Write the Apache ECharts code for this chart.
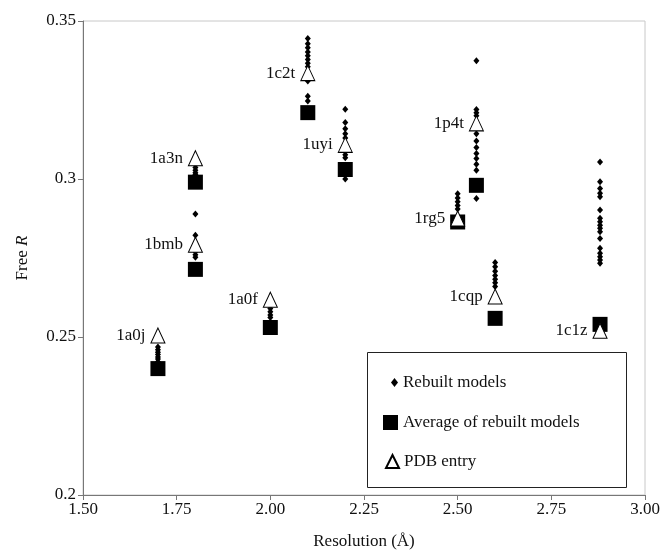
<!DOCTYPE html>
<html>
<head>
<meta charset="utf-8">
<script src="https://cdn.jsdelivr.net/npm/echarts@6/dist/echarts.min.js"></script>
<style>
html,body{margin:0;padding:0;background:#fff;}
#chart{width:665px;height:552px;}
</style>
</head>
<body>
<div id="chart"></div>
<script>
// ---- data ----
var structures = ['1a0j','1a3n','1bmb','1a0f','1c2t','1uyi','1rg5','1p4t','1cqp','1c1z'];
var resolutions = [1.70, 1.80, 1.80, 2.00, 2.10, 2.20, 2.50, 2.55, 2.60, 2.88];
var pdbR = [0.2505, 0.3066, 0.2792, 0.2618, 0.3335, 0.3108, 0.2875, 0.3176, 0.2628, 0.2520];
var avgR = [0.2400, 0.2990, 0.2714, 0.2530, 0.3210, 0.3030, 0.2864, 0.2980, 0.2559, 0.2540];
var rebuiltR = [
  [0.2468, 0.2460, 0.2452, 0.2445, 0.2437, 0.2430, 0.2422],
  [0.3036, 0.3028, 0.3020, 0.3014],
  [0.2889, 0.2822, 0.2770, 0.2760, 0.2752],
  [0.2590, 0.2580, 0.2570, 0.2562],
  [0.3445, 0.3428, 0.3415, 0.3402, 0.3390, 0.3378, 0.3366, 0.3355, 0.3310, 0.3262, 0.3247],
  [0.3221, 0.3179, 0.3159, 0.3143, 0.3130, 0.3077, 0.3067, 0.3000],
  [0.2953, 0.2940, 0.2928, 0.2916, 0.2905],
  [0.3374, 0.3220, 0.3210, 0.3200, 0.3143, 0.3120, 0.3100, 0.3081, 0.3065, 0.3047, 0.3028, 0.2938],
  [0.2736, 0.2722, 0.2708, 0.2695, 0.2683, 0.2672, 0.2660],
  [0.3054, 0.2991, 0.2970, 0.2955, 0.2944, 0.2902, 0.2876, 0.2865, 0.2854, 0.2844, 0.2833, 0.2812, 0.2781, 0.2765, 0.2754, 0.2744, 0.2733]
];
var xTicks = {min: 1.5, max: 3.0, step: 0.25};
var yTicks = {min: 0.20, max: 0.35, step: 0.05};

// ---- build ----
var rebuiltPts = [];
rebuiltR.forEach(function (arr, i) {
  arr.forEach(function (v) { rebuiltPts.push([resolutions[i], v]); });
});
var avgPts = resolutions.map(function (r, i) { return [r, avgR[i]]; });
var pdbPts = resolutions.map(function (r, i) { return {value: [r, pdbR[i]], name: structures[i]}; });

var FONT = 'Liberation Serif';
var TXT = '#111';
var chart = echarts.init(document.getElementById('chart'), null, {renderer: 'canvas'});
chart.setOption({
  animation: false,
  backgroundColor: '#fff',
  textStyle: {fontFamily: FONT},
  grid: {left: 83, right: 20, top: 21, bottom: 57, show: true, borderColor: '#c8c8c8', borderWidth: 1,
         containLabel: false, outerBoundsMode: 'none'},
  xAxis: {
    type: 'value', min: xTicks.min, max: xTicks.max, interval: xTicks.step,
    axisLine: {show: true, lineStyle: {color: '#777'}},
    axisTick: {show: true, length: 5, lineStyle: {color: '#777'}},
    splitLine: {show: false},
    axisLabel: {color: TXT, fontFamily: FONT, fontSize: 17, margin: 6,
      formatter: function (v) { return v.toFixed(2); }},
    name: 'Resolution (Å)', nameLocation: 'middle', nameGap: 38,
    nameTextStyle: {color: TXT, fontFamily: FONT, fontSize: 17}
  },
  yAxis: {
    type: 'value', min: yTicks.min, max: yTicks.max, interval: yTicks.step,
    axisLine: {show: true, lineStyle: {color: '#777'}},
    axisTick: {show: true, length: 5, lineStyle: {color: '#777'}},
    splitLine: {show: false},
    axisLabel: {color: TXT, fontFamily: FONT, fontSize: 17, margin: 7,
      formatter: function (v) { return String(Math.round(v * 100) / 100); }},
    name: 'Free {i|R}', nameLocation: 'middle', nameGap: 52, nameRotate: 90,
    nameTextStyle: {color: TXT, fontFamily: FONT, fontSize: 17,
      rich: {i: {fontStyle: 'italic', fontFamily: FONT, fontSize: 17, color: TXT}}}
  },
  legend: [
    {data: ['Rebuilt models'], left: 386, top: 369, orient: 'vertical', icon: 'diamond',
     itemWidth: 7, itemHeight: 9, textStyle: {fontFamily: FONT, fontSize: 17, color: TXT}},
    {data: ['Average of rebuilt models'], left: 378, top: 409, orient: 'vertical', icon: 'rect',
     itemWidth: 15, itemHeight: 15, textStyle: {fontFamily: FONT, fontSize: 17, color: TXT}},
    {data: ['PDB entry'], left: 380, top: 448, orient: 'vertical', icon: 'triangle',
     itemWidth: 13, itemHeight: 13, textStyle: {fontFamily: FONT, fontSize: 17, color: TXT}}
  ],
  graphic: [{
    type: 'rect', left: 367, top: 352, z: 1,
    shape: {width: 259, height: 135},
    style: {fill: '#fff', stroke: '#222', lineWidth: 1}
  }],
  series: [
    {name: 'Rebuilt models', type: 'scatter', data: rebuiltPts, symbol: 'diamond',
     symbolSize: [6, 7], itemStyle: {color: '#000', opacity: 1}, z: 3},
    {name: 'Average of rebuilt models', type: 'scatter', data: avgPts, symbol: 'rect',
     symbolSize: 15, itemStyle: {color: '#000', opacity: 1}, z: 4},
    {name: 'PDB entry', type: 'scatter', data: pdbPts, symbol: 'triangle',
     symbolSize: [14, 15], itemStyle: {color: '#fff', borderColor: '#000', borderWidth: 1, opacity: 1}, z: 5,
     label: {show: true, position: 'left', distance: 5, formatter: '{b}',
       fontFamily: FONT, fontSize: 17, color: TXT}}
  ]
});
</script>
</body>
</html>
